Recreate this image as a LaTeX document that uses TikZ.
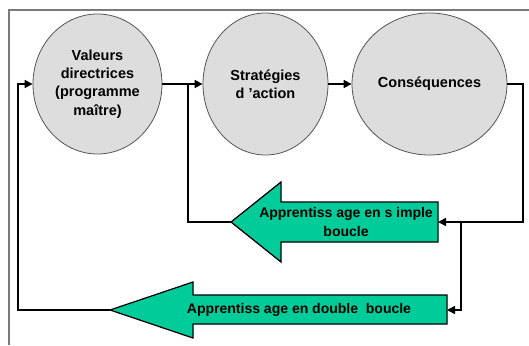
\documentclass[tikz,border=0pt]{standalone}
\usepackage{fontspec}
\setmainfont{Liberation Sans}
\usetikzlibrary{arrows.meta,shapes.geometric}
\definecolor{ovalfill}{HTML}{DDDDDD}
\definecolor{ovalline}{HTML}{555555}
\definecolor{loopgreen}{HTML}{00CC99}
\definecolor{framegray}{HTML}{7A7A7A}
\begin{document}
\begin{tikzpicture}[x=1pt,y=-1pt,
  oval/.style={ellipse, draw=ovalline, fill=ovalfill, line width=0.8pt,
    inner sep=0pt, align=center, font=\bfseries\fontsize{14.5}{18.3}\selectfont},
  conn/.style={draw=black, line width=1.6pt, line join=miter},
  tipped/.style={-{Triangle[length=8pt,width=8pt]}},
  loopbox/.style={fill=loopgreen, draw=black, line width=1.2pt, line join=miter},
  looptext/.style={align=center, inner sep=0pt, font=\bfseries\fontsize{14}{19}\selectfont}]
\useasboundingbox (0,0) rectangle (529,345);

% frame
\draw[framegray, line width=1.2pt] (9,345) -- (9,10) -- (529,10);

% the three stages
\node[oval, minimum width=129pt, minimum height=140pt] (val) at (97.5,84)
  {Valeurs\\directrices\\(programme\\maître)};
\node[oval, minimum width=125pt, minimum height=142pt] (strat) at (265.5,84)
  {Stratégies\\d 'action};
\node[oval, minimum width=155pt, minimum height=142pt] (cons) at (429.5,84)
  {Conséquences};

% single-loop arrow
\coordinate (stip) at (231,222);
\coordinate (send) at (438,222);
\draw[loopbox] (stip) -- (281,182) -- (281,202) -- (438,202) -- (438,242)
  -- (281,242) -- (281,262) -- cycle;
\node[looptext] (simple) at (346,222) {Apprentiss age en s imple\\boucle};

% double-loop arrow
\coordinate (dtip) at (110,310);
\coordinate (dend) at (447,310);
\draw[loopbox] (dtip) -- (193,282) -- (193,295) -- (447,295) -- (447,324)
  -- (193,324) -- (193,338) -- cycle;
\node[looptext] (double) at (299,310) {Apprentiss age en double\ \ boucle};

% routing points
\coordinate (j1) at (188,84);
\coordinate (j2) at (523,84);
\coordinate (j3) at (461,222);
\coordinate (j4) at (18,84);

% connectors
\draw[conn] (val.east) -- (j1);
\draw[conn, tipped] (stip) -| (j1) -- (strat.west);
\draw[conn, tipped] (strat.east) -- (cons.west);
\draw[conn, tipped] (cons.east) -- (j2) |- (send);
\draw[conn, tipped] (j3) |- (dend);
\draw[conn, tipped] (dtip) -| (j4) -- (val.west);
\end{tikzpicture}
\end{document}
